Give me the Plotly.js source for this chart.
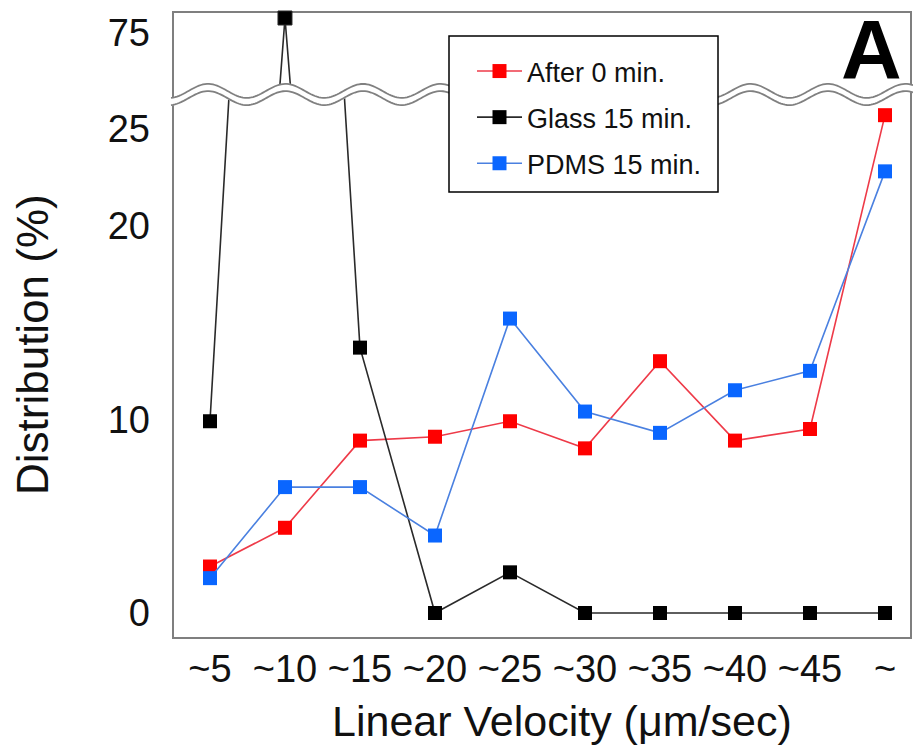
<!DOCTYPE html>
<html>
<head>
<meta charset="utf-8">
<script src="https://cdn.plot.ly/plotly-3.0.1.min.js"></script>
<style>html,body{margin:0;padding:0;background:#fff;}#chart{width:913px;height:753px;}</style>
</head>
<body>
<div id="chart"></div>
<script>
// ---- data ----
const categories = ['~5', '~10', '~15', '~20', '~25', '~30', '~35', '~40', '~45', '~'];
const after0 = [2.4, 4.4, 8.9, 9.1, 9.9, 8.5, 13.0, 8.9, 9.5, 25.7];
const glass15 = [9.9, 76, 13.7, 0, 2.1, 0, 0, 0, 0, 0];
const pdms15 = [1.8, 6.5, 6.5, 4.0, 15.2, 10.4, 9.3, 11.5, 12.5, 22.8];
const seriesNames = ['After 0 min.', 'Glass 15 min.', 'PDMS 15 min.'];
const lowerTicks = [0, 10, 20, 25];
const upperTicks = [75];

// ---- layout geometry (pixels) ----
const W = 913, H = 753;
const L = 173, R = 911, T = 12, B = 638;
const pw = R - L, ph = B - T;
const px2x = x => (x - L) / pw;
const px2y = y => (B - y) / ph;

const lowerTopPx = 96, upperBottomPx = 86;
const lowerRange = [-1.29, 26.69];
const upperRange = [71.47, 76.4];

const font = 'Liberation Sans, Arial, sans-serif';
const mk = 14;

const red = {m: '#ff0000', l: '#ee3a48'};
const blk = {m: '#000000', l: '#2a2a2a'};
const blu = {m: '#0a66ff', l: '#4a80e0'};

const traces = [
  {x: categories, y: after0, name: seriesNames[0], type: 'scatter', mode: 'lines+markers',
   line: {color: red.l, width: 1.6}, marker: {color: red.m, size: mk, symbol: 'square', opacity: 1},
   xaxis: 'x', yaxis: 'y', legendgroup: 'a'},
  {x: categories, y: glass15, name: seriesNames[1], type: 'scatter', mode: 'lines+markers',
   line: {color: blk.l, width: 1.6}, marker: {color: blk.m, size: mk, symbol: 'square', opacity: 1},
   xaxis: 'x', yaxis: 'y', legendgroup: 'b'},
  {x: categories, y: pdms15, name: seriesNames[2], type: 'scatter', mode: 'lines+markers',
   line: {color: blu.l, width: 1.6}, marker: {color: blu.m, size: mk, symbol: 'square', opacity: 1},
   xaxis: 'x', yaxis: 'y', legendgroup: 'c'},
  // upper (broken) part of the axis, glass series
  {x: categories, y: glass15, name: seriesNames[1], type: 'scatter', mode: 'lines+markers',
   line: {color: blk.l, width: 1.6},
   marker: {color: blk.m, symbol: 'square', opacity: 1,
            size: glass15.map(v => v >= upperRange[0] ? mk : 0)},
   cliponaxis: false, xaxis: 'x', yaxis: 'y2', showlegend: false, legendgroup: 'b'}
];

// wave break path
function wavePath(offset) {
  let d = '';
  for (let x = L - 2; x <= R + 2; x += 2) {
    const y = 94.5 - 7 * Math.cos(2 * Math.PI * (x - 208) / 77.5) + offset;
    d += (d ? ' L ' : 'M ') + px2x(x).toFixed(5) + ',' + px2y(y).toFixed(5);
  }
  return d;
}

const shapes = [
  {type: 'rect', xref: 'paper', yref: 'paper', x0: 0, x1: 1, y0: 0, y1: 1,
   line: {color: '#7f7f7f', width: 2}, layer: 'below'},
  {type: 'path', xref: 'paper', yref: 'paper', path: wavePath(0),
   line: {color: '#ffffff', width: 8}, layer: 'above'},
  {type: 'path', xref: 'paper', yref: 'paper', path: wavePath(-3.6),
   line: {color: '#808080', width: 1.8}, layer: 'above'},
  {type: 'path', xref: 'paper', yref: 'paper', path: wavePath(3.6),
   line: {color: '#808080', width: 1.8}, layer: 'above'},
  // legend box
  {type: 'rect', xref: 'paper', yref: 'paper', x0: px2x(449), x1: px2x(718), y0: px2y(192), y1: px2y(36),
   fillcolor: '#ffffff', line: {color: '#000000', width: 1.5}, layer: 'above'}
];

const layout = {
  width: W, height: H,
  margin: {l: L, r: W - R, t: T, b: H - B, pad: 0},
  paper_bgcolor: '#ffffff', plot_bgcolor: '#ffffff',
  font: {family: font, color: '#000000'},
  showlegend: true,
  xaxis: {type: 'category', range: [-0.493, 9.347], showgrid: false, zeroline: false,
          showline: false, ticks: '', ticklabelstandoff: 5,
          tickfont: {family: font, size: 38, color: '#111'}, anchor: 'y'},
  yaxis: {domain: [0, px2y(lowerTopPx)], range: lowerRange, showgrid: false, zeroline: false,
          showline: false, ticks: '', tickvals: lowerTicks, ticktext: lowerTicks.map(String),
          ticklabelstandoff: 22, tickfont: {family: font, size: 38, color: '#111'}, anchor: 'x'},
  yaxis2: {domain: [px2y(upperBottomPx), 1], range: upperRange, showgrid: false, zeroline: false,
           showline: false, ticks: '', tickvals: upperTicks, ticktext: upperTicks.map(String),
           ticklabelstandoff: 22, tickfont: {family: font, size: 38, color: '#111'}, anchor: 'x'},
  legend: {x: px2x(472), y: px2y(47), xanchor: 'left', yanchor: 'top',
           bgcolor: 'rgba(0,0,0,0)', borderwidth: 0, itemwidth: 45,
           font: {family: font, size: 27, color: '#111'},
           traceorder: 'grouped', tracegroupgap: 8},
  shapes: shapes,
  annotations: [
    {text: 'A', xref: 'paper', yref: 'paper', x: px2x(871), y: px2y(50),
     xanchor: 'center', yanchor: 'middle', showarrow: false,
     font: {family: font, size: 84, color: '#000', weight: 'bold'}},
    {text: 'Distribution (%)', xref: 'paper', yref: 'paper', x: px2x(32), y: px2y(345),
     xanchor: 'center', yanchor: 'middle', textangle: -90, showarrow: false,
     font: {family: font, size: 44, color: '#111'}},
    {text: 'Linear Velocity (\u03bcm/sec)', xref: 'paper', yref: 'paper', x: px2x(562), y: px2y(721),
     xanchor: 'center', yanchor: 'middle', showarrow: false,
     font: {family: font, size: 43, color: '#111'}}
  ]
};

Plotly.newPlot('chart', traces, layout, {displayModeBar: false, staticPlot: true});
</script>
</body>
</html>
